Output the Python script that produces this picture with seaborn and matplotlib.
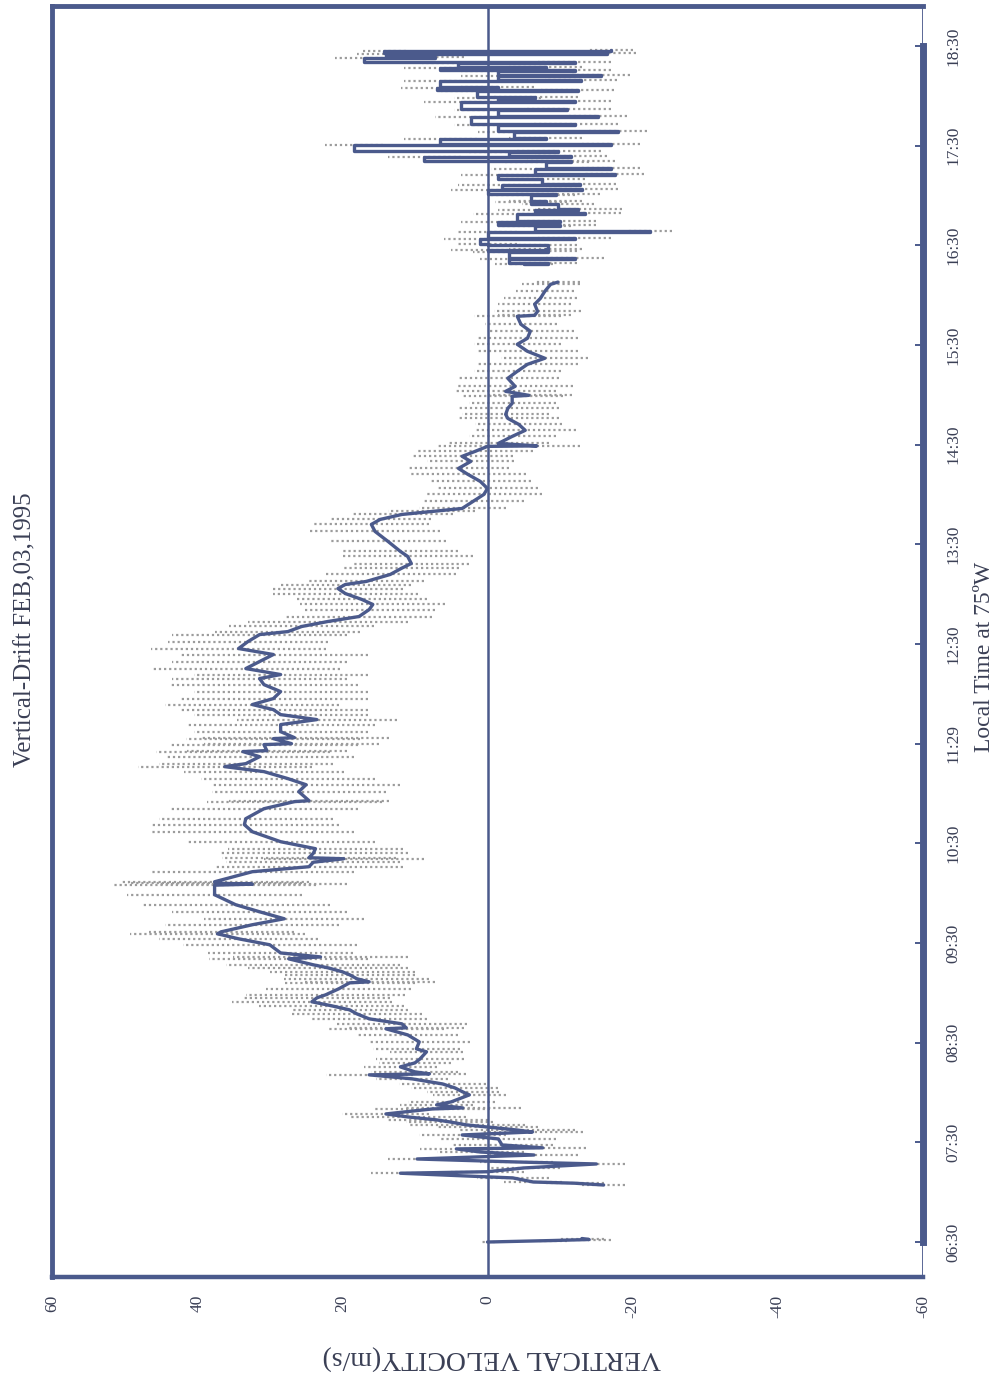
import matplotlib
matplotlib.use("Agg")
import matplotlib.pyplot as plt
import seaborn as sns
import numpy as np
import pandas as pd

# ---- data (time in decimal hours LT, vertical velocity in m/s, spread in m/s) ----
seg_a_time = [6.500, 6.515, 6.525, 6.535]
seg_a_vel = [0.0, -9.0, -14.0, -13.0]
seg_a_err = [1, 2, 3, 3]

seg_b_time = [
    7.072, 7.090, 7.102, 7.143, 7.190, 7.205, 7.243, 7.283, 7.303, 7.333,
    7.373, 7.403, 7.434, 7.445, 7.474, 7.534, 7.574, 7.604, 7.624, 7.654,
    7.675, 7.705, 7.725, 7.755, 7.785, 7.835, 7.845, 7.876, 7.906, 7.976,
    8.006, 8.046, 8.086, 8.137, 8.177, 8.187, 8.207, 8.257, 8.297, 8.337,
    8.408, 8.438, 8.508, 8.578, 8.639, 8.649, 8.689, 8.739, 8.789, 8.829,
    8.870, 8.910, 8.950, 8.980, 9.040, 9.100, 9.110, 9.141, 9.181, 9.211,
    9.251, 9.281, 9.341, 9.360, 9.400, 9.482, 9.542, 9.592, 9.612, 9.683,
    9.743, 9.813, 9.884, 9.984, 10.080, 10.090, 10.100, 10.114, 10.215, 10.265,
    10.310, 10.345, 10.355, 10.400, 10.446, 10.516, 10.616, 10.687, 10.747, 10.847,
    10.918, 10.928, 11.018, 11.088, 11.149, 11.219, 11.269, 11.299, 11.369, 11.420,
    11.430, 11.490, 11.500, 11.550, 11.560, 11.620, 11.691, 11.741, 11.791, 11.841,
    11.892, 11.952, 12.022, 12.092, 12.153, 12.193, 12.253, 12.323, 12.394, 12.454,
    12.524, 12.594, 12.624, 12.675, 12.725, 12.775, 12.845, 12.896, 12.946, 13.006,
    13.056, 13.096, 13.127, 13.197, 13.257, 13.307, 13.378, 13.428, 13.528, 13.629,
    13.699, 13.749, 13.799, 13.829, 13.859, 13.930, 14.000, 14.060, 14.131, 14.201,
    14.261, 14.331, 14.382, 14.432, 14.482, 14.487, 14.512, 14.582, 14.643, 14.703,
    14.763, 14.803, 14.863, 14.914, 14.984, 14.994, 15.034, 15.084, 15.165, 15.235,
    15.305, 15.366, 15.436, 15.506, 15.566, 15.637, 15.707, 15.787, 15.797, 15.837,
    15.908, 15.968, 16.038, 16.108, 16.130,
]
seg_b_vel = [
    -16.0, -12.0, -6.3, -3.5, 12.0, 0.0, -5.0, -15.0, -4.0, 9.7,
    -6.4, 1.0, 4.3, -7.6, -2.0, -1.5, 3.5, -6.2, -4.0, 0.0,
    2.9, 5.2, 7.0, 11.0, 14.0, 7.6, 3.4, 7.0, 5.0, 2.5,
    3.4, 4.5, 6.2, 10.4, 16.3, 8.0, 10.0, 12.0, 10.0, 9.3,
    8.4, 9.8, 9.4, 11.0, 14.0, 11.2, 11.8, 16.3, 18.0, 19.0,
    21.5, 24.2, 23.5, 22.3, 20.5, 19.0, 16.3, 18.0, 19.0, 20.0,
    22.0, 24.0, 27.4, 23.0, 28.5, 30.0, 34.3, 37.2, 36.7, 32.4,
    28.0, 31.4, 34.7, 37.6, 37.6, 32.4, 37.5, 37.6, 32.4, 24.6,
    24.0, 19.8, 24.6, 24.0, 23.7, 28.5, 32.4, 33.5, 33.3, 30.8,
    26.6, 24.6, 26.0, 25.0, 27.5, 30.8, 36.2, 33.3, 31.4, 33.7,
    30.4, 30.8, 27.0, 29.5, 26.6, 28.5, 28.5, 23.5, 28.5, 29.5,
    32.4, 29.5, 28.5, 30.8, 31.4, 28.5, 33.3, 31.4, 29.5, 34.3,
    33.0, 31.4, 27.5, 25.6, 22.0, 17.7, 16.3, 15.8, 17.3, 19.6,
    20.6, 19.6, 16.7, 13.4, 11.9, 10.5, 11.0, 12.0, 13.7, 15.5,
    16.0, 14.8, 11.8, 7.7, 3.5, 2.0, 0.5, 0.0, 1.0, 2.7,
    4.0, 2.3, 3.5, 1.7, 0.0, -6.8, -1.5, -3.4, -5.2, -4.3,
    -2.8, -2.5, -2.8, -3.4, -3.4, -5.7, -2.5, -3.8, -2.8, -4.1,
    -5.5, -7.9, -5.5, -4.1, -5.5, -5.9, -4.6, -4.1, -6.5, -6.9,
    -6.5, -7.3, -7.9, -8.7, -9.7,
]
seg_b_err = [
    3, 4, 4, 5, 4, 5, 5, 4, 5, 4,
    6, 6, 5, 6, 7, 8, 6, 7, 8, 7,
    8, 6, 7, 8, 6, 8, 8, 5, 6, 5,
    5, 6, 6, 5, 6, 5, 6, 5, 5, 6,
    5, 6, 7, 7, 8, 8, 9, 8, 9, 8,
    10, 11, 10, 11, 10, 9, 9, 10, 9, 10,
    11, 12, 11, 12, 10, 12, 11, 12, 10, 12,
    11, 12, 13, 12, 14, 13, 12, 13, 14, 13,
    12, 11, 12, 13, 12, 13, 14, 13, 12, 13,
    12, 11, 12, 13, 12, 11, 12, 12, 13, 12,
    11, 13, 12, 12, 13, 12, 13, 11, 12, 13,
    12, 13, 12, 13, 12, 12, 13, 12, 13, 12,
    11, 12, 10, 10, 11, 10, 9, 10, 9, 10,
    9, 9, 8, 9, 8, 8, 9, 8, 8, 9,
    8, 7, 7, 6, 6, 7, 8, 7, 7, 8,
    7, 6, 7, 8, 7, 6, 7, 6, 7, 6,
    7, 6, 7, 6, 7, 6, 7, 8, 7, 6,
    7, 6, 7, 6, 7, 6, 5, 6, 5, 6,
    5, 5, 4, 4, 3,
]

seg_c_time = [
    16.315, 16.325, 16.365, 16.375, 16.435, 16.445, 16.455, 16.465, 16.505, 16.515,
    16.565, 16.575, 16.635, 16.645, 16.690, 16.700, 16.735, 16.745, 16.815, 16.825,
    16.855, 16.865, 16.912, 16.935, 16.945, 17.005, 17.015, 17.055, 17.065, 17.105,
    17.115, 17.163, 17.205, 17.215, 17.265, 17.275, 17.335, 17.345, 17.385, 17.395,
    17.435, 17.445, 17.505, 17.515, 17.565, 17.575, 17.640, 17.650, 17.705, 17.715,
    17.790, 17.800, 17.860, 17.870, 17.940, 17.950, 17.975, 17.985, 18.045, 18.055,
    18.075, 18.085, 18.145, 18.155, 18.195, 18.205, 18.245, 18.255, 18.275, 18.285,
    18.325, 18.335, 18.375, 18.385, 18.415, 18.425, 18.445, 18.455,
]
seg_c_vel = [
    -5.0, -8.3, -3.0, -12.0, -3.0, -8.3, 0.0, -8.0, -8.3, 0.0,
    1.0, -12.0, 0.0, -22.4, -6.5, -10.0, -1.4, -10.0, -4.0, -13.4,
    -6.5, -12.5, -9.7, -6.0, -8.0, -6.0, -9.5, 0.0, -13.0, -2.0,
    -12.7, -7.5, -1.4, -17.5, -6.5, -17.0, -8.0, -11.5, 8.7, -11.5,
    -3.0, -9.7, 18.4, -17.0, 6.5, -8.0, -3.7, -18.0, -1.4, -12.0,
    2.3, -15.2, -1.4, -11.0, 3.7, -12.0, -1.4, -6.5, 1.4, -12.4,
    6.9, -1.4, 6.5, -12.9, -1.4, -15.6, -1.4, -12.0, 6.5, -8.0,
    4.0, -12.0, 17.0, 7.3, 14.0, -16.5, 14.2, -17.0,
]
seg_c_err = [
    4, 4, 4, 4, 5, 4, 5, 5, 4, 4,
    5, 5, 4, 3, 5, 5, 5, 5, 6, 5,
    5, 6, 5, 5, 5, 6, 6, 5, 5, 6,
    5, 6, 5, 4, 6, 4, 6, 6, 5, 5,
    6, 6, 4, 4, 5, 5, 5, 4, 6, 6,
    5, 4, 6, 6, 5, 5, 6, 6, 5, 5,
    5, 5, 5, 5, 5, 4, 5, 5, 5, 5,
    5, 5, 4, 4, 4, 4, 3, 3,
]

time_ticks = [6.5, 7.5, 8.5, 9.5, 10.5, 11.5, 12.5, 13.5, 14.5, 15.5, 16.5, 17.5, 18.5]
time_labels = ["06:30", "07:30", "08:30", "09:30", "10:30", "11:29", "12:30",
               "13:30", "14:30", "15:30", "16:30", "17:30", "18:30"]
vel_ticks = [60, 40, 20, 0, -20, -40, -60]
vel_labels = ["60", "40", "20", "0", "-20", "-40", "-60"]

LINE = "#4b5a8c"
DOTS = "#9c9c9c"
TEXT = "#3a3f55"

sns.set_theme(style="white")
plt.rcParams["font.family"] = ["Liberation Serif", "DejaVu Serif"]

fig = plt.figure(figsize=(9.97, 13.73), dpi=100)
W, H = 997, 1373
ax = fig.add_axes([52 / W, (H - 1277) / H, (923 - 52) / W, (1277 - 6) / H])

# (time, velocity, spread, drawstyle) - the late noisy record is drawn as steps
segments = [
    (seg_a_time, seg_a_vel, seg_a_err, "default"),
    (seg_b_time, seg_b_vel, seg_b_err, "default"),
    (seg_c_time, seg_c_vel, seg_c_err, "steps-post"),
]

# stippled spread bars first, then the dark drift curve on top
for t, v, e, _ in segments:
    assert len(t) == len(v) == len(e)
    df = pd.DataFrame({"time": t, "vel": v, "err": e})
    ax.hlines(df["time"], df["vel"] - df["err"], df["vel"] + df["err"],
              colors=DOTS, linestyles=(0, (1.0, 1.3)), linewidth=1.6, zorder=1)

ax.axvline(0, color=LINE, lw=1.8, zorder=2)

for t, v, e, ds in segments:
    df = pd.DataFrame({"time": t, "vel": v})
    sns.lineplot(data=df, x="vel", y="time", orient="y", sort=False,
                 estimator=None, color=LINE, lw=2.4, ax=ax, zorder=3,
                 drawstyle=ds)

ax.set_xlim(60, -60)
ax.set_ylim(6.149, 18.90)
ax.set_xlabel("")
ax.set_ylabel("")

ax.set_xticks(vel_ticks)
ax.set_xticklabels(vel_labels, rotation=90, fontsize=12.5)
ax.yaxis.tick_right()
ax.set_yticks(time_ticks)
ax.set_yticklabels(time_labels, rotation=90, fontsize=12.5, va="center")

ax.tick_params(axis="x", direction="in", length=12, width=1.4, color=LINE,
               pad=13, labelcolor=TEXT)
ax.tick_params(axis="y", direction="in", length=6, width=1.4, color=LINE,
               pad=16, labelcolor=TEXT, right=True, left=False)

for side, lw in [("left", 3.5), ("top", 3.5), ("bottom", 3.2)]:
    ax.spines[side].set_color(LINE)
    ax.spines[side].set_linewidth(lw)
    ax.spines[side].set_visible(True)
ax.spines["right"].set_color(LINE)
ax.spines["right"].set_linewidth(5.0)
ax.spines["right"].set_bounds(6.5, 18.5)
ax.axvline(-60, color=LINE, lw=2.0, zorder=0.5)

fig.text(25 / W, 1 - 630 / H, "Vertical-Drift FEB,03,1995", rotation=90,
         ha="center", va="center", fontsize=18, color=TEXT)
fig.text(984 / W, 1 - 657 / H, "Local Time at 75\u00baW", rotation=90,
         ha="center", va="center", fontsize=17, color=TEXT)
fig.text(492 / W, 1 - 1357 / H, "VERTICAL VELOCITY(m/s)", rotation=180,
         ha="center", va="center", fontsize=20, color=TEXT)

fig.savefig("out.png", dpi=100)
